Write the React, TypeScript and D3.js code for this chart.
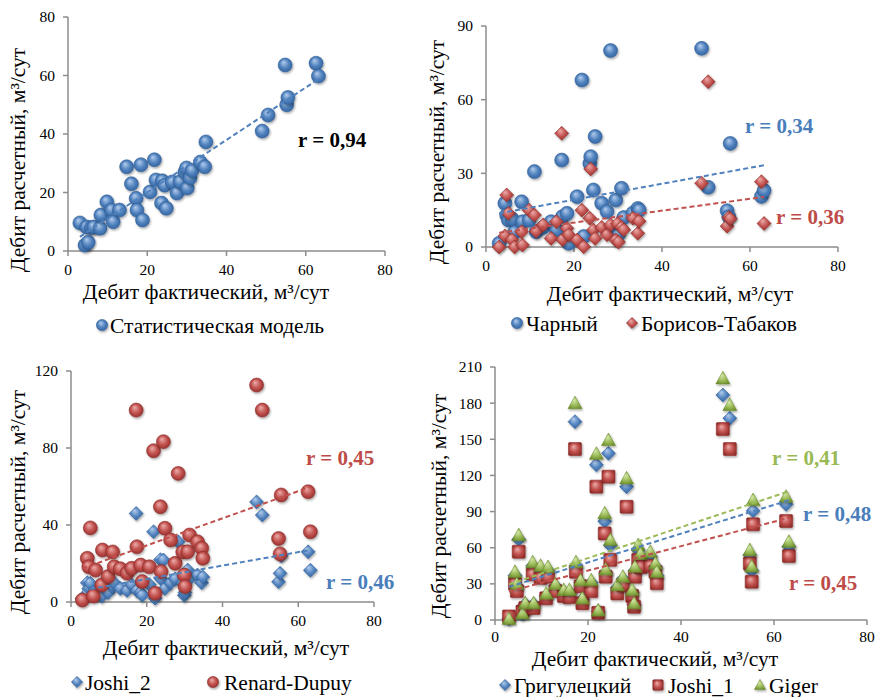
import React from 'react';
import * as d3 from 'd3';

// ---- DATA ----
const wellRates = [3.0,4.3,4.7,5.1,5.9,6.5,8.1,8.3,9.8,11.0, 11.4,13.0,14.8,16.0,17.2,17.4,18.4,18.8,20.7,21.8, 22.2,23.6,23.8,24.4,24.8,26.3,27.5,28.3,29.5,29.9, 30.1,30.8,31.3,33.4,34.5,34.8,49.0,50.5,54.8,55.2, 55.5,62.6,63.2];
const statModel = [9.6,2.0,8.2,3.0,8.0,8.2,7.8,12.3,16.8,14.0, 10.0,14.0,28.8,23.0,18.0,14.0,29.5,10.6,20.2,31.2, 24.3,16.4,24.0,22.5,14.6,23.6,19.8,23.7,27.0,28.4, 21.5,25.0,27.5,30.4,28.8,37.3,41.0,46.5,63.6,50.0, 52.5,64.2,59.8];
const charny = [1.5,17.8,13,11,11.5,6,18.4,10.3,11,30.7, 6.2,8,10.3,7,35.4,12.4,13.7,1.5,20.5,68, 4.3,34,36.8,23.2,45,17.8,14.4,80,19.1,7.6, 5,23.9,12,13.8,15.7,15,80.9,24.3,14.8,12.3, 42.2,20.6,23];
const borisovTabakov = [0,4.5,21.2,13.7,3,0,6.2,0.8,15,13, 6.4,9,3.5,10.3,46.3,3,7.6,5,2.8,15, 0.1,11.7,31.8,6.9,3.5,8,5,9,2.8,9.5, 2,8,7,11.7,5.6,10.5,26,67.3,8.5,12, 11.5,26.6,9.6];
const joshi2 = [2,10,7,9.7,5,4,3,8,5,8, 10,7,6,9,46,6,5,3.5,9,36.5, 2,22,12,21.8,7,10,12,31.3,10,3.5, 5,16.6,12,14,10,13,52,45.2,10.5,14.9, 24,26.1,16.5];
const renardDupuy = [1,22.7,18.3,38.5,3.1,16.6,8.8,27,13.2,26, 18.3,17.3,15,17.5,99.7,28.7,19.2,10.6,18.3,78.6, 4.5,49.5,15.8,83.3,38.3,32.2,20.1,66.8,26,14, 8,26.1,34.8,31.3,27.9,22.7,112.7,99.7,33,25, 55.6,57.3,36.5];
const grigulecky = [1,37,28,67,5,13,45,13,42,20, 41,28,23,23,164.6,45,31,17,31,128.8, 7,82,39,138.4,62,27,34,110.7,23,13, 41,58,51,53,44,37,186.8,167.5,54,41, 90.6,96,61];
const joshi1 = [3,30,24,56.7,7,10,38,10,35,18, 36,24,20,19,141.9,40,28,14,24,110.7, 6,71.9,36,119,50,22,29,94,20,11, 36,50,44,45,40,30.5,158.5,141.9,47,31.8, 79.4,82.2,53.1];
const giger = [1,40,30,70.5,5.5,14,48,14,45,22, 44,30,25,25,180,48,33,18,33,138, 8,88.6,42,149.4,66.4,29,36,117.6,25,14, 44.3,62.3,55,56.7,47,40,200.6,178.5,58,44.5, 99.6,102.4,65];

const xTicks = [0, 20, 40, 60, 80];
const yTicks1 = [0, 20, 40, 60, 80];
const yTicks2 = [0, 30, 60, 90];
const yTicks3 = [0, 40, 80, 120];
const yTicks4 = [0, 30, 60, 90, 120, 150, 180, 210];

const corrLabels = ['r = 0,94', 'r = 0,34', 'r = 0,36', 'r = 0,45', 'r = 0,46', 'r = 0,41', 'r = 0,48', 'r = 0,45'];
const xTitle = 'Дебит фактический, м³/сут';
const yTitle = 'Дебит расчетный, м³/сут';

// ---- STYLE ----
const FONT = "'Liberation Serif', 'DejaVu Serif', serif";
const COLORS: Record<string, { base: string; light: string; dark: string; text: string }> = {
  blue: { base: '#4F81BD', light: '#B4CDEE', dark: '#2E5E98', text: '#4A7EBB' },
  red: { base: '#C0504D', light: '#EDADAB', dark: '#8C2A27', text: '#BE4B48' },
  green: { base: '#9BBB59', light: '#D8EBAE', dark: '#6A8A2B', text: '#98B954' },
};

type Shape = 'circle' | 'diamond' | 'square' | 'triangle';
interface Series { values: number[]; color: string; shape: Shape; }
interface Label { text: string; color: string; x: number; y: number; }
interface LegendItem { name: string; color: string; shape: Shape; mx: number; tx: number; }
interface PanelCfg {
  x0: number; x1: number; yb: number; yt: number; yMax: number; yTicks: number[]; tickOff: number;
  series: Series[]; labels: Label[];
  xTitleX: number; xTitleY: number; yTitleX: number; yTitleY: number;
  legendY: number; legend: LegendItem[];
}

function Marker({ shape, color, x, y, s = 1 }: { shape: Shape; color: string; x: number; y: number; s?: number }) {
  const c = COLORS[color];
  const common = { fill: `url(#g-${color})`, stroke: c.dark, strokeWidth: 0.8, strokeOpacity: 0.7, filter: 'url(#shadow)' } as any;
  if (shape === 'circle') return <circle cx={x} cy={y} r={7 * s} {...common} />;
  if (shape === 'diamond') {
    const h = 7 * s;
    return <path d={`M${x},${y - h}L${x + h},${y}L${x},${y + h}L${x - h},${y}Z`} {...common} />;
  }
  if (shape === 'square') {
    const h = 6.5 * s;
    return <rect x={x - h} y={y - h} width={2 * h} height={2 * h} rx={1} {...common} />;
  }
  const h = 7 * s;
  return <path d={`M${x},${y - h}L${x + h},${y + h * 0.8}L${x - h},${y + h * 0.8}Z`} {...common} />;
}

function regression(xs: number[], ys: number[]) {
  const mx = d3.mean(xs) as number;
  const my = d3.mean(ys) as number;
  let sxy = 0, sxx = 0;
  xs.forEach((x, i) => { sxy += (x - mx) * (ys[i] - my); sxx += (x - mx) * (x - mx); });
  const b = sxy / sxx;
  return { a: my - b * mx, b };
}

function Panel({ cfg }: { cfg: PanelCfg }) {
  const x = d3.scaleLinear().domain([0, 80]).range([cfg.x0, cfg.x1]);
  const y = d3.scaleLinear().domain([0, cfg.yMax]).range([cfg.yb, cfg.yt]);
  const axisColor = '#8C8C8C';
  const xmin = d3.min(wellRates) as number;
  const xmax = d3.max(wellRates) as number;
  return (
    <g>
      <line x1={cfg.x0} x2={cfg.x0} y1={cfg.yt} y2={cfg.yb} stroke={axisColor} strokeWidth={1.5} />
      <line x1={cfg.x0} x2={cfg.x1} y1={cfg.yb} y2={cfg.yb} stroke={axisColor} strokeWidth={1.5} />
      {cfg.yTicks.map((t) => (
        <g key={'yt' + t}>
          <line x1={cfg.x0 - 5} x2={cfg.x0} y1={y(t)} y2={y(t)} stroke={axisColor} strokeWidth={1.5} />
          <text x={cfg.x0 - 13} y={y(t)} dy="0.35em" textAnchor="end" fontSize={15.5} fontFamily={FONT} fill="#000">{t}</text>
        </g>
      ))}
      {xTicks.map((t) => (
        <g key={'xt' + t}>
          <line x1={x(t)} x2={x(t)} y1={cfg.yb} y2={cfg.yb + 5} stroke={axisColor} strokeWidth={1.5} />
          <text x={x(t)} y={cfg.yb + cfg.tickOff} textAnchor="middle" fontSize={15.5} fontFamily={FONT} fill="#000">{t}</text>
        </g>
      ))}
      {cfg.series.map((s, si) => (
        <g key={'s' + si}>
          {s.values.map((v, i) => (
            <Marker key={i} shape={s.shape} color={s.color} x={x(wellRates[i])} y={y(v)} />
          ))}
        </g>
      ))}
      {cfg.series.map((s, si) => {
        const { a, b } = regression(wellRates, s.values);
        return (
          <line key={'tr' + si} x1={x(xmin)} y1={y(a + b * xmin)} x2={x(xmax)} y2={y(a + b * xmax)}
            stroke={COLORS[s.color].base} strokeWidth={2} strokeDasharray="5,3" />
        );
      })}
      {cfg.labels.map((l, i) => (
        <text key={'l' + i} x={l.x} y={l.y} fontSize={21} fontWeight="bold" fontFamily={FONT}
          fill={l.color === 'black' ? '#000' : COLORS[l.color].text}>{l.text}</text>
      ))}
      <text x={cfg.xTitleX} y={cfg.xTitleY} textAnchor="middle" fontSize={21.5} fontFamily={FONT} fill="#000">{xTitle}</text>
      <text transform={`translate(${cfg.yTitleX},${cfg.yTitleY}) rotate(-90)`} dy="0.35em" textAnchor="middle"
        fontSize={21.5} fontFamily={FONT} fill="#000">{yTitle}</text>
      {cfg.legend.map((it, i) => (
        <g key={'lg' + i}>
          <Marker shape={it.shape} color={it.color} x={it.mx} y={cfg.legendY} s={0.8} />
          <text x={it.tx} y={cfg.legendY} dy="0.35em" fontSize={21.5} fontFamily={FONT} fill="#000">{it.name}</text>
        </g>
      ))}
    </g>
  );
}

export default function App() {
  const panels: PanelCfg[] = [
    {
      x0: 68, x1: 385, yb: 251, yt: 17, yMax: 80, yTicks: yTicks1, tickOff: 24,
      series: [{ values: statModel, color: 'blue', shape: 'circle' }],
      labels: [{ text: corrLabels[0], color: 'black', x: 298, y: 147 }],
      xTitleX: 206, xTitleY: 299, yTitleX: 17, yTitleY: 160,
      legendY: 325, legend: [{ name: 'Статистическая модель', color: 'blue', shape: 'circle', mx: 102, tx: 110 }],
    },
    {
      x0: 486, x1: 838, yb: 247, yt: 26, yMax: 90, yTicks: yTicks2, tickOff: 24,
      series: [
        { values: charny, color: 'blue', shape: 'circle' },
        { values: borisovTabakov, color: 'red', shape: 'diamond' },
      ],
      labels: [
        { text: corrLabels[1], color: 'blue', x: 745, y: 133 },
        { text: corrLabels[2], color: 'red', x: 776, y: 224 },
      ],
      xTitleX: 670, xTitleY: 301, yTitleX: 436, yTitleY: 152,
      legendY: 323, legend: [
        { name: 'Чарный', color: 'blue', shape: 'circle', mx: 517, tx: 526 },
        { name: 'Борисов-Табаков', color: 'red', shape: 'diamond', mx: 632, tx: 641 },
      ],
    },
    {
      x0: 71, x1: 374, yb: 602, yt: 371, yMax: 120, yTicks: yTicks3, tickOff: 24,
      series: [
        { values: joshi2, color: 'blue', shape: 'diamond' },
        { values: renardDupuy, color: 'red', shape: 'circle' },
      ],
      labels: [
        { text: corrLabels[3], color: 'red', x: 306, y: 465 },
        { text: corrLabels[4], color: 'blue', x: 326, y: 589 },
      ],
      xTitleX: 226, xTitleY: 655, yTitleX: 17, yTitleY: 502,
      legendY: 682, legend: [
        { name: 'Joshi_2', color: 'blue', shape: 'diamond', mx: 77, tx: 85 },
        { name: 'Renard-Dupuy', color: 'red', shape: 'circle', mx: 213, tx: 224 },
      ],
    },
    {
      x0: 495, x1: 867, yb: 620, yt: 367, yMax: 210, yTicks: yTicks4, tickOff: 22,
      series: [
        { values: grigulecky, color: 'blue', shape: 'diamond' },
        { values: joshi1, color: 'red', shape: 'square' },
        { values: giger, color: 'green', shape: 'triangle' },
      ],
      labels: [
        { text: corrLabels[5], color: 'green', x: 772, y: 465 },
        { text: corrLabels[6], color: 'blue', x: 803, y: 521 },
        { text: corrLabels[7], color: 'red', x: 789, y: 590 },
      ],
      xTitleX: 655, xTitleY: 666, yTitleX: 438, yTitleY: 506,
      legendY: 685, legend: [
        { name: 'Григулецкий', color: 'blue', shape: 'diamond', mx: 505, tx: 514 },
        { name: 'Joshi_1', color: 'red', shape: 'square', mx: 658, tx: 668 },
        { name: 'Giger', color: 'green', shape: 'triangle', mx: 760, tx: 769 },
      ],
    },
  ];
  return (
    <svg width={877} height={697} style={{ position: 'absolute', left: 0, top: 0, background: '#fff' }}>
      <defs>
        {Object.keys(COLORS).map((k) => (
          <radialGradient key={k} id={`g-${k}`} cx="0.5" cy="0.5" r="0.6" fx="0.38" fy="0.3">
            <stop offset="0" stopColor={COLORS[k].light} />
            <stop offset="0.55" stopColor={COLORS[k].base} />
            <stop offset="1" stopColor={COLORS[k].dark} />
          </radialGradient>
        ))}
        <filter id="shadow" x="-50%" y="-50%" width="200%" height="200%">
          <feDropShadow dx="1" dy="1.5" stdDeviation="1.3" floodColor="#000" floodOpacity="0.35" />
        </filter>
      </defs>
      <rect width={877} height={697} fill="#fff" />
      {panels.map((p, i) => <Panel key={i} cfg={p} />)}
    </svg>
  );
}
